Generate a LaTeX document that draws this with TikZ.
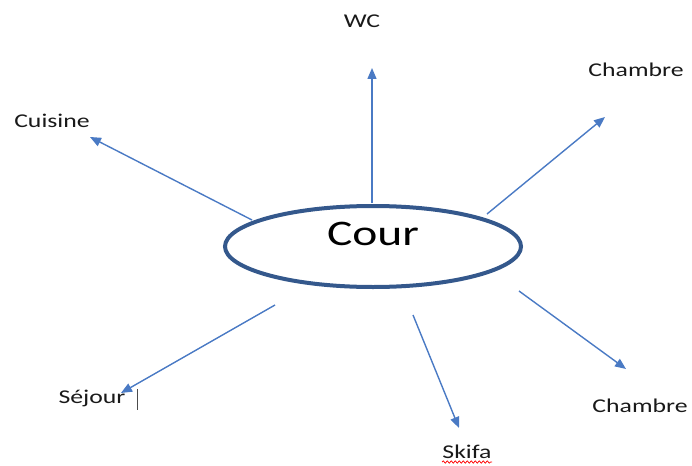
\documentclass[tikz,border=0pt]{standalone}
\usepackage{fontspec}
\setmainfont[FakeStretch=1.32]{Carlito}
\usetikzlibrary{arrows.meta,shapes.geometric,decorations.pathmorphing}
\definecolor{ellblue}{RGB}{52,88,140}
\definecolor{arrblue}{RGB}{74,122,196}
\begin{document}
\begin{tikzpicture}[x=1pt,y=-1pt,
  lbl/.style={anchor=base,inner sep=0pt,font=\fontsize{19.5}{19.5}\selectfont,text=black!90},
  conn/.style={draw=arrblue,line width=1.4pt,-{Triangle[length=11pt,width=9pt]}}]
\useasboundingbox (0,0) rectangle (692,465);
\node[ellipse,draw=ellblue,line width=4pt,minimum width=296pt,minimum height=81pt,inner sep=0pt] (cour) at (373,246.5) {};
\node[anchor=base,inner sep=0pt,font=\fontsize{36}{36}\selectfont] (courtxt) at (373,245) {Cour};
\node[lbl] (wc) at (362,28) {WC};
\node[lbl] (ch1) at (636,77) {Chambre};
\node[lbl] (cui) at (52,128) {Cuisine};
\node[lbl] (ch2) at (640,412) {Chambre};
\node[lbl] (sej) at (92,403) {Séjour};
\node[lbl] (ski) at (467,458) {Skifa};
\coordinate (s1) at (372,203);  \coordinate (e1) at (372,68);
\coordinate (s2) at (487,214);  \coordinate (e2) at (605,117);
\coordinate (s3) at (252,220);  \coordinate (e3) at (90,137);
\coordinate (s4) at (519,291);  \coordinate (e4) at (626,369);
\coordinate (s5) at (413,315);  \coordinate (e5) at (459,428);
\coordinate (s6) at (275,305);  \coordinate (e6) at (121,393);
\draw[conn] (s1) -- (e1);
\draw[conn] (s2) -- (e2);
\draw[conn] (s3) -- (e3);
\draw[conn] (s4) -- (e4);
\draw[conn] (s5) -- (e5);
\draw[conn] (s6) -- (e6);
\coordinate (c1) at (137,389); \coordinate (c2) at (137,410);
\draw[black!70,line width=0.8pt] (c1) -- (c2);
\coordinate (w1) at (442,462); \coordinate (w2) at (492,462);
\draw[red,line width=0.7pt,decorate,decoration={snake,amplitude=1.2pt,segment length=4pt}] (w1) -- (w2);
\end{tikzpicture}
\end{document}
